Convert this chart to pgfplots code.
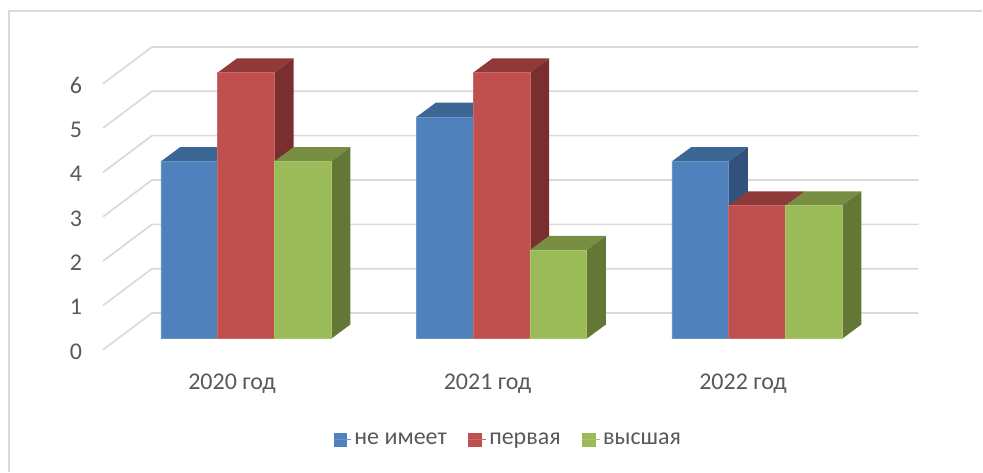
\documentclass[border=0pt]{standalone}
\usepackage{pgfplots}
\pgfplotsset{compat=1.18}
\usepackage{fontspec}
\setmainfont{Carlito}
\definecolor{blueF}{HTML}{4F81BD}\definecolor{blueT}{HTML}{3C6694}\definecolor{blueS}{HTML}{32527D}
\definecolor{redF}{HTML}{C0504D}\definecolor{redT}{HTML}{8F3A38}\definecolor{redS}{HTML}{7A2F2E}
\definecolor{greenF}{HTML}{9BBB59}\definecolor{greenT}{HTML}{788E42}\definecolor{greenS}{HTML}{647836}
\definecolor{gridc}{HTML}{D9D9D9}\definecolor{txt}{HTML}{595959}
\pgfplotsset{squareleg/.style={/pgfplots/legend image code/.code={\fill[##1,draw=none] (0pt,-5.2pt) rectangle (10.5pt,5.2pt);\path (0pt,0pt) -- (13.5pt,0pt);}}}
\begin{document}
\begin{tikzpicture}
\begin{axis}[
  scale only axis, width=737.25pt, height=354pt,
  xmin=-0.9625, xmax=2.8805, ymin=-2.9955, ymax=7.635,
  axis line style={draw=none}, major tick length=0pt, clip=false,
  xtick={-0.055,0.945,1.945}, xticklabels={2020 год,2021 год,2022 год},
  ytick={-0.286,0.714,1.714,2.714,3.714,4.714,5.714},
  yticklabels={0,1,2,3,4,5,6},
  ticklabel style={font=\fontsize{18}{21}\selectfont, text=txt},
  yticklabel style={anchor=center, xshift=57pt},
  xticklabel style={anchor=center, yshift=66pt},
  legend style={draw=none, fill=none, at={(axis cs:1.027,-2.275)}, anchor=center,
     font=\fontsize{18}{21}\selectfont, text=txt, legend columns=3,
     /tikz/every even column/.append style={column sep=14pt}},
  legend cell align=left,
]
% frame: top and left edges
\addplot[gridc, line width=1.5pt, forget plot] coordinates {(-0.9295,-2.9955)(-0.9295,7.39)(2.8805,7.39)};
% back grid lines with their side wall
\addplot[gridc, line width=1.25pt, forget plot] coordinates {(-0.5598,-0.248)(-0.3683,0.579)(2.6314,0.579)};
\addplot[gridc, line width=1.25pt, forget plot] coordinates {(-0.5598,0.752)(-0.3683,1.579)(2.6314,1.579)};
\addplot[gridc, line width=1.25pt, forget plot] coordinates {(-0.5598,1.752)(-0.3683,2.579)(2.6314,2.579)};
\addplot[gridc, line width=1.25pt, forget plot] coordinates {(-0.5598,2.752)(-0.3683,3.579)(2.6314,3.579)};
\addplot[gridc, line width=1.25pt, forget plot] coordinates {(-0.5598,3.752)(-0.3683,4.579)(2.6314,4.579)};
\addplot[gridc, line width=1.25pt, forget plot] coordinates {(-0.5598,4.752)(-0.3683,5.579)(2.6314,5.579)};
\addplot[gridc, line width=1.25pt, forget plot] coordinates {(-0.5598,5.752)(-0.3683,6.579)(2.6314,6.579)};
% не имеет: tops and sides
\addplot[fill=blueT, draw=none, forget plot] coordinates {(-0.333,4)(-0.111,4)(-0.0355,4.322)(-0.2575,4.322)} -- cycle;
\addplot[fill=blueS, draw=none, forget plot] coordinates {(-0.111,4)(-0.0355,4.322)(-0.0355,0.322)(-0.111,0)} -- cycle;
\addplot[fill=blueT, draw=none, forget plot] coordinates {(0.667,5)(0.889,5)(0.9645,5.322)(0.7425,5.322)} -- cycle;
\addplot[fill=blueS, draw=none, forget plot] coordinates {(0.889,5)(0.9645,5.322)(0.9645,0.322)(0.889,0)} -- cycle;
\addplot[fill=blueT, draw=none, forget plot] coordinates {(1.667,4)(1.889,4)(1.9645,4.322)(1.7425,4.322)} -- cycle;
\addplot[fill=blueS, draw=none, forget plot] coordinates {(1.889,4)(1.9645,4.322)(1.9645,0.322)(1.889,0)} -- cycle;
\addplot[ybar, bar width=0.222, bar shift=-0.222, fill=blueF, draw=blueF!85!white, line width=0.4pt, squareleg] coordinates {(0,4)(1,5)(2,4)};
\addlegendentry{не имеет}
% первая
\addplot[fill=redT, draw=none, forget plot] coordinates {(-0.111,6)(0.111,6)(0.1865,6.322)(-0.0355,6.322)} -- cycle;
\addplot[fill=redS, draw=none, forget plot] coordinates {(0.111,6)(0.1865,6.322)(0.1865,0.322)(0.111,0)} -- cycle;
\addplot[fill=redT, draw=none, forget plot] coordinates {(0.889,6)(1.111,6)(1.1865,6.322)(0.9645,6.322)} -- cycle;
\addplot[fill=redS, draw=none, forget plot] coordinates {(1.111,6)(1.1865,6.322)(1.1865,0.322)(1.111,0)} -- cycle;
\addplot[fill=redT, draw=none, forget plot] coordinates {(1.889,3)(2.111,3)(2.1865,3.322)(1.9645,3.322)} -- cycle;
\addplot[fill=redS, draw=none, forget plot] coordinates {(2.111,3)(2.1865,3.322)(2.1865,0.322)(2.111,0)} -- cycle;
\addplot[ybar, bar width=0.222, bar shift=0, fill=redF, draw=redF!85!white, line width=0.4pt, squareleg] coordinates {(0,6)(1,6)(2,3)};
\addlegendentry{первая}
% высшая
\addplot[fill=greenT, draw=none, forget plot] coordinates {(0.111,4)(0.333,4)(0.4085,4.322)(0.1865,4.322)} -- cycle;
\addplot[fill=greenS, draw=none, forget plot] coordinates {(0.333,4)(0.4085,4.322)(0.4085,0.322)(0.333,0)} -- cycle;
\addplot[fill=greenT, draw=none, forget plot] coordinates {(1.111,2)(1.333,2)(1.4085,2.322)(1.1865,2.322)} -- cycle;
\addplot[fill=greenS, draw=none, forget plot] coordinates {(1.333,2)(1.4085,2.322)(1.4085,0.322)(1.333,0)} -- cycle;
\addplot[fill=greenT, draw=none, forget plot] coordinates {(2.111,3)(2.333,3)(2.4085,3.322)(2.1865,3.322)} -- cycle;
\addplot[fill=greenS, draw=none, forget plot] coordinates {(2.333,3)(2.4085,3.322)(2.4085,0.322)(2.333,0)} -- cycle;
\addplot[ybar, bar width=0.222, bar shift=0.222, fill=greenF, draw=greenF!85!white, line width=0.4pt, squareleg] coordinates {(0,4)(1,2)(2,3)};
\addlegendentry{высшая}
\end{axis}
\end{tikzpicture}
\end{document}
